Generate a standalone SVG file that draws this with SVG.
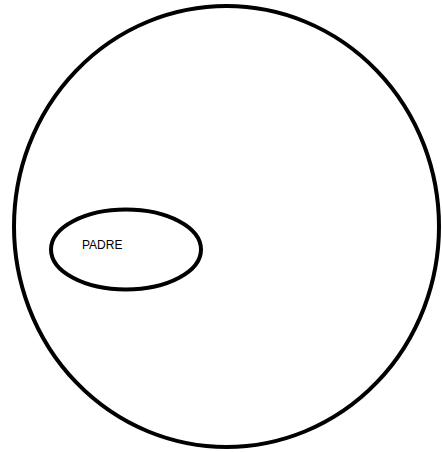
<svg xmlns="http://www.w3.org/2000/svg" width="442" height="452" viewBox="0 0 442 452">
<style>
.shape{fill:none;stroke:#000;stroke-width:4}
.lbl{font-family:"Liberation Sans",Arial,sans-serif;font-size:12px;fill:#000}
</style>
<rect width="442" height="452" fill="#fff"/>
<g id="outer"><ellipse class="shape" cx="226.5" cy="226.5" rx="212.5" ry="220.5"/></g>
<g id="padre"><ellipse class="shape" cx="126" cy="249.5" rx="75" ry="40"/><text class="lbl" x="82" y="249">PADRE</text></g>
<g id="connectors"/>
</svg>
